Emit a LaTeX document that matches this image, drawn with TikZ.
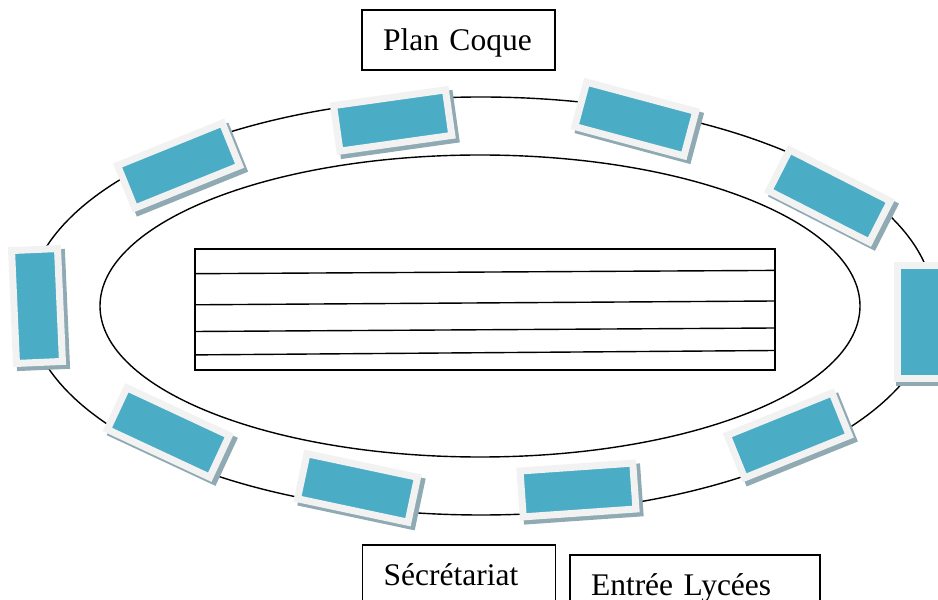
\documentclass[tikz,border=0pt]{standalone}
\usepackage{fontspec}
\setmainfont{Liberation Serif}
\definecolor{posteBleu}{RGB}{75,172,198}
\definecolor{posteCadre}{RGB}{242,242,242}
\definecolor{posteOmbre}{RGB}{143,170,178}
\begin{document}
\begin{tikzpicture}[
        x=1pt, y=1pt,
        trait/.style={line width=1.4pt},
        poste/.style={rectangle, fill=posteBleu, draw=posteCadre, line width=7pt, minimum width=113pt, minimum height=46pt, inner sep=0pt},
        ombre/.style={rectangle, fill=posteOmbre, minimum width=120pt, minimum height=53pt, inner sep=0pt},
        etiquette/.style={rectangle, draw, fill=white, line width=1.3pt, minimum height=60pt, text height=22pt, text depth=0pt, inner xsep=21pt, align=left, font=\fontsize{31.5}{36}\selectfont}
    ]
        \useasboundingbox (0,0) rectangle (938,600);

        % Les deux ellipses
        \draw[trait] (481,294) ellipse [x radius=453pt, y radius=209pt];
        \draw[trait] (480,294) ellipse [x radius=380pt, y radius=151pt];

        % La table du milieu
        \draw[trait] (195,230) rectangle (775,351);
        \draw[trait] (195,326.3) -- (775,329.6);
        \draw[trait] (195,295.2) -- (775,299);
        \draw[trait] (195,268.5) -- (775,272);
        \draw[trait] (195,245.1) -- (775,249.5);

        % Les postes autour
        \node[ombre, rotate=22] (o1) at (182.6,430.4) {};
        \node[poste, rotate=22] (p1) at (178.6,434.4) {};
        \node[ombre, rotate=8] (o2) at (396.7,475.5) {};
        \node[poste, rotate=8] (p2) at (392.7,479.5) {};
        \node[ombre, rotate=-15] (o3) at (639.3,477) {};
        \node[poste, rotate=-15] (p3) at (635.3,481) {};
        \node[ombre, rotate=-27] (o4) at (833.5,400) {};
        \node[poste, rotate=-27] (p4) at (829.5,404) {};
        \node[ombre, rotate=90] (o5) at (922,274.3) {};
        \node[poste, rotate=90] (p5) at (920,278.3) {};
        \node[ombre, rotate=92.5] (o6) at (41,290) {};
        \node[poste, rotate=92.5] (p6) at (37,294) {};
        \node[ombre, rotate=-25] (o7) at (172.3,163.5) {};
        \node[poste, rotate=-25] (p7) at (168.3,167.5) {};
        \node[ombre, rotate=-12] (o8) at (361.5,108) {};
        \node[poste, rotate=-12] (p8) at (357.5,112) {};
        \node[ombre, rotate=4] (o9) at (582,106) {};
        \node[poste, rotate=4] (p9) at (578,110) {};
        \node[ombre, rotate=22] (o10) at (792.3,160.6) {};
        \node[poste, rotate=22] (p10) at (788.3,164.6) {};

        % Les étiquettes
        \node[etiquette, text width=151pt] (plan) at (458.5,560) {Plan Coque};
        \node[etiquette, text width=151pt] (secretariat) at (459.2,25) {Sécrétariat};
        \node[etiquette, text width=208pt] (entree) at (695,15) {Entrée Lycées};
    \end{tikzpicture}
\end{document}
